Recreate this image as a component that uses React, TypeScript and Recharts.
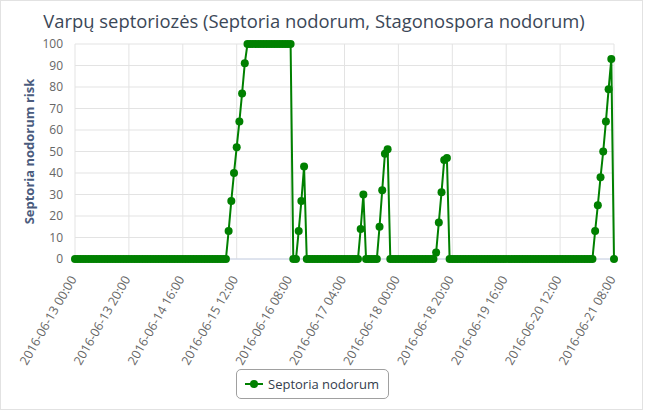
import React from "react";
import { LineChart, Line, XAxis, YAxis, CartesianGrid, Legend, Label } from "recharts";

const TITLE = "Varpų septoriozės (Septoria nodorum, Stagonospora nodorum)";
const Y_LABEL = "Septoria nodorum risk";
const SERIES_NAME = "Septoria nodorum";

// hourly readings, starting 2016-06-13 00:00 (index = hours since start)
const RISK_VALUES: number[] = [
  0, 0, 0, 0, 0, 0, 0, 0, 0, 0,
  0, 0, 0, 0, 0, 0, 0, 0, 0, 0,
  0, 0, 0, 0, 0, 0, 0, 0, 0, 0,
  0, 0, 0, 0, 0, 0, 0, 0, 0, 0,
  0, 0, 0, 0, 0, 0, 0, 0, 0, 0,
  0, 0, 0, 0, 0, 0, 0, 13, 27, 40,
  52, 64, 77, 91, 100, 100, 100, 100, 100, 100,
  100, 100, 100, 100, 100, 100, 100, 100, 100, 100,
  100, 0, 0, 13, 27, 43, 0, 0, 0, 0,
  0, 0, 0, 0, 0, 0, 0, 0, 0, 0,
  0, 0, 0, 0, 0, 0, 14, 30, 0, 0,
  0, 0, 0, 15, 32, 49, 51, 0, 0, 0,
  0, 0, 0, 0, 0, 0, 0, 0, 0, 0,
  0, 0, 0, 0, 3, 17, 31, 46, 47, 0,
  0, 0, 0, 0, 0, 0, 0, 0, 0, 0,
  0, 0, 0, 0, 0, 0, 0, 0, 0, 0,
  0, 0, 0, 0, 0, 0, 0, 0, 0, 0,
  0, 0, 0, 0, 0, 0, 0, 0, 0, 0,
  0, 0, 0, 0, 0, 0, 0, 0, 0, 0,
  0, 0, 0, 13, 25, 38, 50, 64, 79, 93,
  0,
];

const TICK_HOURS = [0, 20, 40, 60, 80, 100, 120, 140, 160, 180, 200];
const TICK_LABELS = [
  "2016-06-13 00:00",
  "2016-06-13 20:00",
  "2016-06-14 16:00",
  "2016-06-15 12:00",
  "2016-06-16 08:00",
  "2016-06-17 04:00",
  "2016-06-18 00:00",
  "2016-06-18 20:00",
  "2016-06-19 16:00",
  "2016-06-20 12:00",
  "2016-06-21 08:00",
];
const Y_TICKS = [0, 10, 20, 30, 40, 50, 60, 70, 80, 90, 100];

const GREEN = "#008000";
const FONT = "'Open Sans', 'DejaVu Sans', sans-serif";

const data = RISK_VALUES.map((v, i) => ({ h: i, risk: v }));

const XTick = (props: any) => {
  const { x, y, payload } = props;
  const idx = TICK_HOURS.indexOf(payload.value);
  const label = idx >= 0 ? TICK_LABELS[idx] : "";
  const ax = x + 2;
  const ay = y + 20;
  return (
    <text
      x={ax}
      y={ay}
      transform={`rotate(-60 ${ax} ${ay})`}
      textAnchor="end"
      fontSize={12.5}
      fill="#666666"
      fontFamily={FONT}
    >
      {label}
    </text>
  );
};

const YTick = (props: any) => {
  const { x, y, payload } = props;
  return (
    <text x={x} y={y + 4} textAnchor="end" fontSize={12} fill="#666666" fontFamily={FONT}>
      {payload.value}
    </text>
  );
};

const LegendContent = () => (
  <div
    style={{
      boxSizing: "border-box",
      width: 153,
      height: 30,
      border: "1px solid #a0a0a0",
      borderRadius: 5,
      display: "flex",
      alignItems: "center",
      paddingLeft: 8,
      fontFamily: FONT,
      fontSize: 13,
      color: "#333d4d",
      background: "#fff",
    }}
  >
    <svg width={18} height={10} style={{ marginRight: 5 }}>
      <line x1={0} y1={5} x2={18} y2={5} stroke={GREEN} strokeWidth={2} />
      <circle cx={9} cy={5} r={4} fill={GREEN} />
    </svg>
    <span>{SERIES_NAME}</span>
  </div>
);

export default function App() {
  return (
    <div style={{ position: "absolute", left: 0, top: 0, width: 645, height: 411, background: "#fff" }}>
      <div
        style={{
          position: "absolute",
          left: 0,
          top: 0,
          width: 643,
          height: 410,
          boxSizing: "border-box",
          border: "1px solid #e2e2e2",
        }}
      />
      <div
        style={{
          position: "absolute",
          left: 0,
          top: 11,
          width: 628,
          textAlign: "center",
          fontFamily: FONT,
          fontSize: 18.4,
          lineHeight: "20px",
          color: "#3b4757",
          whiteSpace: "nowrap",
        }}
      >
        {TITLE}
      </div>
      <div style={{ position: "absolute", left: 0, top: 0 }}>
        <LineChart
          width={645}
          height={411}
          data={data}
          margin={{ top: 44, right: 31, left: 0, bottom: 0 }}
        >
          <CartesianGrid stroke="#e3e3e3" verticalValues={TICK_HOURS} />
          <XAxis
            dataKey="h"
            type="number"
            domain={[0, 200]}
            ticks={TICK_HOURS}
            interval={0}
            height={152}
            tickSize={0}
            tickMargin={0}
            tickLine={false}
            axisLine={{ stroke: "#ccd6eb" }}
            tick={<XTick />}
          />
          <YAxis
            type="number"
            domain={[0, 100]}
            ticks={Y_TICKS}
            interval={0}
            width={75}
            tickSize={0}
            tickMargin={12}
            tickLine={false}
            axisLine={false}
            tick={<YTick />}
          >
            <Label
              content={(p: any) => {
                const vb = p.viewBox || { x: 0, y: 44, width: 75, height: 215 };
                const cx = vb.x + 29;
                const cy = vb.y + vb.height / 2;
                return (
                  <text
                    x={cx}
                    y={cy}
                    transform={`rotate(-90 ${cx} ${cy})`}
                    textAnchor="middle"
                    dominantBaseline="central"
                    fontSize={13}
                    fontWeight="bold"
                    fill="#4a5b7d"
                    fontFamily={FONT}
                  >
                    {Y_LABEL}
                  </text>
                );
              }}
            />
          </YAxis>
          <Legend
            layout="horizontal"
            verticalAlign="middle"
            align="center"
            wrapperStyle={{ top: 369, left: 236, width: 153, height: 30 }}
            content={<LegendContent />}
          />
          <Line
            type="linear"
            dataKey="risk"
            name={SERIES_NAME}
            stroke={GREEN}
            strokeWidth={2}
            dot={{ r: 4, fill: GREEN, stroke: GREEN, strokeWidth: 0 }}
            activeDot={false}
            isAnimationActive={false}
          />
        </LineChart>
      </div>
    </div>
  );
}
